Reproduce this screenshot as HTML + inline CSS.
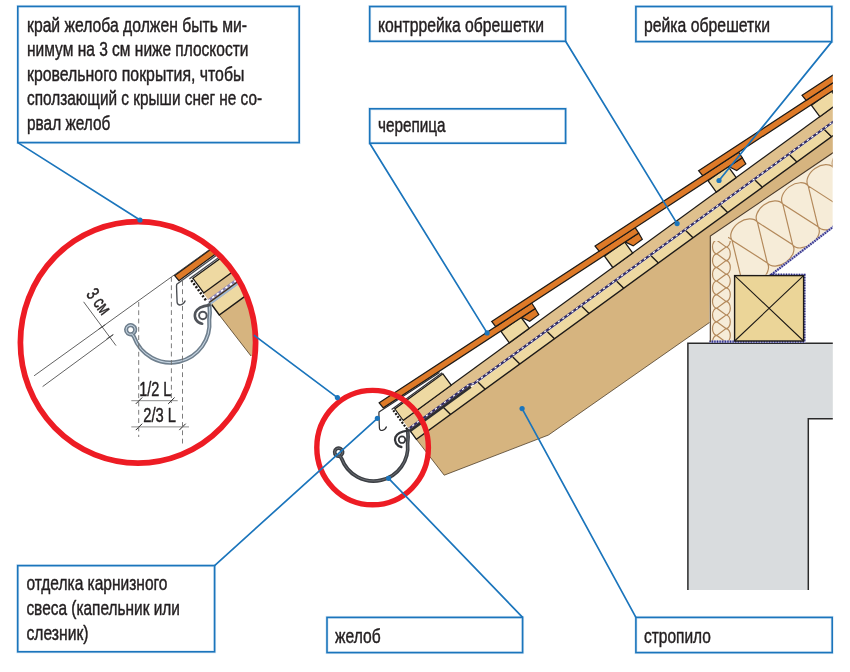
<!DOCTYPE html>
<html lang="ru"><head><meta charset="utf-8"><title>Карнизный свес: желоб, капельник, стропило</title>
<style>html,body{margin:0;padding:0;background:#fff}body{width:850px;height:672px;overflow:hidden}svg{display:block;will-change:transform}text{font-family:"Liberation Sans",sans-serif;fill:#231f20;stroke:#231f20;stroke-width:.45px;stroke-linejoin:round}</style></head><body>
<svg width="850" height="672" viewBox="0 0 850 672">
<defs>
<clipPath id="crop"><rect x="0" y="0" width="832.8" height="672"/></clipPath>
<clipPath id="insB"><polygon points="728,224 832.8,152.9 832.8,227 771.4,274.4 734.6,275.4 728,270"/></clipPath>
<clipPath id="insC"><rect x="710.3" y="241" width="24.3" height="101"/></clipPath>
<clipPath id="big"><ellipse cx="138" cy="342.4" rx="117.6" ry="120.7"/></clipPath>
<g id="roof">
<polygon points="416.4,439.3 869.0,109.5 870.0,127.6 710.3,236.0 709.5,322.5 548.5,435.0 444.2,475.2" fill="#d6b47f"/>
<path d="M416.4,439.3 L444.2,475.2 L548.5,435.0 L709.5,322.5" fill="none" stroke="#3d2d18" stroke-width=".9" opacity=".8"/>
<polygon points="416.4,439.3 869.0,109.5 863.2,101.6 410.6,431.4" fill="#eed9a2"/>
<path d="M410.6,431.4 L416.4,439.3 L869.0,109.5" fill="none" stroke="#1d1a17" stroke-width="1.4"/>
<path d="M450.6,414.4 L443.5,407.4 M485.2,389.2 L478.2,382.2 M519.8,363.9 L512.8,356.9 M554.5,338.7 L547.4,331.7 M589.1,313.4 L582.0,306.5 M623.7,288.2 L616.7,281.2 M658.4,263.0 L651.3,256.0 M693.0,237.7 L685.9,230.8 M727.6,212.5 L720.6,205.5 M762.3,187.3 L755.2,180.3 M796.9,162.0 L789.8,155.1 M831.5,136.8 L824.5,129.8 M866.2,111.6 L859.1,104.6 " stroke="#1d1a17" stroke-width="1.4" fill="none"/>
<polygon points="409.9,430.4 862.5,100.6 855.3,90.8 402.7,420.5" fill="#dfc08d"/>
<path d="M402.7,420.5 L855.3,90.8" stroke="#1d1a17" stroke-width="1.2" fill="none"/>
<path d="M409.4,431.4 L470.8,386.6" stroke="#2c2c30" stroke-width="2.6" fill="none"/>
<path d="M407.9,429.4 L469.4,384.6 L473.7,383.7 L862.4,100.5" stroke="#322d68" stroke-width="2.3" fill="none"/>
<path d="M407.8,429.2 L469.2,384.5 L473.5,383.6 L862.3,100.3" stroke="#fff" stroke-width="1.2" stroke-dasharray="2.3 3.3" fill="none"/>
<polygon points="403.0,420.4 451.2,385.2 442.9,373.8 394.7,409.0" fill="#eed9a2" stroke="#1d1a17" stroke-width="1.3" stroke-linejoin="miter"/>
<polygon points="509.3,342.9 529.2,328.4 520.9,317.0 501.0,331.5" fill="#eed9a2" stroke="#1d1a17" stroke-width="1.3" stroke-linejoin="miter"/>
<polygon points="612.8,267.5 632.7,253.0 624.4,241.6 604.5,256.1" fill="#eed9a2" stroke="#1d1a17" stroke-width="1.3" stroke-linejoin="miter"/>
<polygon points="716.3,192.1 736.2,177.6 727.9,166.2 708.0,180.7" fill="#eed9a2" stroke="#1d1a17" stroke-width="1.3" stroke-linejoin="miter"/>
<polygon points="819.8,116.7 839.6,102.2 831.3,90.8 811.5,105.3" fill="#eed9a2" stroke="#1d1a17" stroke-width="1.3" stroke-linejoin="miter"/>
<polygon points="521.6,317.4 529.7,321.3 538.8,314.7 535.2,308.5" fill="#de7a28" stroke="#1d1a17" stroke-width="1.2" stroke-linejoin="miter"/>
<polygon points="379.2,402.8 531.7,303.0 535.2,308.5 383.3,407.8" fill="#de7a28" stroke="#1d1a17" stroke-width="1.25" stroke-linejoin="miter"/>
<polygon points="625.1,241.9 633.2,245.9 642.3,239.3 638.7,233.1" fill="#de7a28" stroke="#1d1a17" stroke-width="1.2" stroke-linejoin="miter"/>
<polygon points="491.7,321.5 635.2,227.6 638.7,233.1 495.7,326.6" fill="#de7a28" stroke="#1d1a17" stroke-width="1.25" stroke-linejoin="miter"/>
<polygon points="728.6,166.5 736.7,170.5 745.8,163.9 742.2,157.7" fill="#de7a28" stroke="#1d1a17" stroke-width="1.2" stroke-linejoin="miter"/>
<polygon points="595.1,246.1 738.7,152.2 742.2,157.7 599.2,251.2" fill="#de7a28" stroke="#1d1a17" stroke-width="1.25" stroke-linejoin="miter"/>
<polygon points="832.1,91.1 840.2,95.1 849.3,88.5 845.7,82.2" fill="#de7a28" stroke="#1d1a17" stroke-width="1.2" stroke-linejoin="miter"/>
<polygon points="698.6,170.7 842.2,76.8 845.7,82.2 702.7,175.7" fill="#de7a28" stroke="#1d1a17" stroke-width="1.25" stroke-linejoin="miter"/>
<polygon points="935.6,15.7 943.7,19.7 952.8,13.0 949.2,6.8" fill="#de7a28" stroke="#1d1a17" stroke-width="1.2" stroke-linejoin="miter"/>
<polygon points="802.1,95.3 945.7,1.4 949.2,6.8 806.2,100.3" fill="#de7a28" stroke="#1d1a17" stroke-width="1.25" stroke-linejoin="miter"/>
</g>
<g id="eave">
<path d="M393.3,410.3 L408.0,430.5" stroke="#fff" stroke-width="3" fill="none"/>
<path d="M393.3,410.3 L407.5,429.7" stroke="#1d1a17" stroke-width="2.2" stroke-dasharray="2 1.6" fill="none"/>
<path d="M439.5,372.6 L379.0,412.1 L378.9,414.0 L379.4,428.0 C 379.6,431.6 384.6,431.4 386.6,426.6" stroke="#2e2e31" stroke-width="1.2" fill="none" stroke-linejoin="round"/>
<path d="M442.2,372.8 L391.6,409.5" stroke="#2e2e31" stroke-width="1.1" fill="none"/>
<path d="M 341.3,455.2 A 4,4 0 1 0 339.9,456.0 L 341.6,458.5 A 34.1,34.1 0 0 0 407.6,443.5 C 408.3,439 408.2,434.5 407.7,430.4" stroke="#3c3f44" stroke-width="3.7" fill="none" stroke-linecap="round"/>
<path d="M 341.3,455.2 A 4,4 0 1 0 339.9,456.0 L 341.6,458.5 A 34.1,34.1 0 0 0 407.6,443.5 C 408.3,439 408.2,434.5 407.7,430.4" stroke="#707479" stroke-width=".9" fill="none" stroke-linecap="round"/>
<path d="M 407.7,430.6 C 403,431.2 397.4,432.4 395.4,437.2 C 393.8,441.6 396.6,446.2 401.4,447" stroke="#34363a" stroke-width="2.3" fill="none" stroke-linecap="round"/>
<circle cx="402" cy="439.7" r="3.3" fill="#fff" stroke="#34363a" stroke-width="1.7"/>
</g>
</defs>
<rect width="850" height="672" fill="#fff"/>
<g clip-path="url(#crop)">
<polygon points="687.9,343.3 840,343.3 840,418.8 808.3,418.8 808.3,590 687.9,590" fill="#d9dcde"/>
<path d="M687.9,590 L687.9,343.3 L840,343.3 M840,418.8 L808.3,418.8 L808.3,590" fill="none" stroke="#2a2a2a" stroke-width="1.5"/>
<polygon points="710.3,236 832.8,152.9 832.8,227 771.4,274.4 734.6,275.4 734.6,342 710.3,342" fill="#f6ecd8"/>
<g fill="none" stroke="#b48a5c" stroke-width="1.2">
<path clip-path="url(#insB)" d="M706.6,258.4 A15.6,10.5 -35.5 0 1 732.0,240.2 L741.9,281.0 A15.6,10.5 -35.5 0 0 767.3,262.9 L732.0,240.2 A15.6,10.5 -35.5 0 1 757.4,222.1 L767.3,262.9 A15.6,10.5 -35.5 0 0 792.7,244.8 L757.4,222.1 A15.6,10.5 -35.5 0 1 782.8,204.0 L792.7,244.8 A15.6,10.5 -35.5 0 0 818.1,226.7 L782.8,204.0 A15.6,10.5 -35.5 0 1 808.2,185.9 L818.1,226.7 A15.6,10.5 -35.5 0 0 843.5,208.6 L808.2,185.9 A15.6,10.5 -35.5 0 1 833.6,167.8 L843.5,208.6 A15.6,10.5 -35.5 0 0 868.9,190.5 L833.6,167.8 A15.6,10.5 -35.5 0 1 859.0,149.6 L868.9,190.5 A15.6,10.5 -35.5 0 0 894.3,172.3 L859.0,149.6 A15.6,10.5 -35.5 0 1 884.4,131.5 L894.3,172.3 A15.6,10.5 -35.5 0 0 919.7,154.2 L884.4,131.5 "/>
<path clip-path="url(#insC)" d="M716.8,349.0 A6.8,4.3 -90.0 0 1 716.8,335.4 L726.0,342.2 A6.8,4.3 -90.0 0 0 726.0,328.6 L716.8,335.4 A6.8,4.3 -90.0 0 1 716.8,321.8 L726.0,328.6 A6.8,4.3 -90.0 0 0 726.0,315.0 L716.8,321.8 A6.8,4.3 -90.0 0 1 716.8,308.2 L726.0,315.0 A6.8,4.3 -90.0 0 0 726.0,301.4 L716.8,308.2 A6.8,4.3 -90.0 0 1 716.8,294.6 L726.0,301.4 A6.8,4.3 -90.0 0 0 726.0,287.8 L716.8,294.6 A6.8,4.3 -90.0 0 1 716.8,281.0 L726.0,287.8 A6.8,4.3 -90.0 0 0 726.0,274.2 L716.8,281.0 A6.8,4.3 -90.0 0 1 716.8,267.4 L726.0,274.2 A6.8,4.3 -90.0 0 0 726.0,260.6 L716.8,267.4 A6.8,4.3 -90.0 0 1 716.8,253.8 L726.0,260.6 A6.8,4.3 -90.0 0 0 726.0,247.0 L716.8,253.8 A6.8,4.3 -90.0 0 1 716.8,240.2 L726.0,247.0 A6.8,4.3 -90.0 0 0 726.0,233.4 L716.8,240.2 "/>
</g>
<path d="M834,226.2 L771.4,274.6 L804.4,274.8 L804.4,341.6 L709.6,341.6" fill="none" stroke="#a9a9d6" stroke-width="2.2"/>
<path d="M834,226.2 L771.4,274.6 L804.4,274.8 L804.4,341.6 L709.6,341.6" fill="none" stroke="#2f2f86" stroke-width="2.2" stroke-dasharray="1.2 1.4"/>
<rect x="734.6" y="275.6" width="69" height="65.4" fill="#ebd598" stroke="#1d1a17" stroke-width="1.4"/>
<path d="M734.6,275.6 L803.6,341 M803.6,275.6 L734.6,341" stroke="#1d1a17" stroke-width="1.1" fill="none"/>
<use href="#roof"/>
<path d="M710.3,342 L710.3,236 L834,152.1" fill="none" stroke="#4a3a2a" stroke-width="1.1"/>
<use href="#eave"/>
</g>
<ellipse cx="372.6" cy="447.6" rx="55.8" ry="57.2" fill="none" stroke="#ed1c24" stroke-width="5.4"/>
<ellipse cx="138" cy="342.4" rx="117.6" ry="120.7" fill="#fff"/>
<g clip-path="url(#big)">
<g transform="translate(-255.42 -185.79) scale(1.140)">
<polygon points="416.4,439.3 489.1,386.3 520.0,470.0 444.2,475.2" fill="#d6b47f"/>
<path d="M416.4,439.3 L444.2,475.2" fill="none" stroke="#3d2d18" stroke-width=".8" opacity=".8"/>
<polygon points="416.4,439.3 489.1,386.3 482.4,377.1 409.7,430.1" fill="#eed9a2"/>
<path d="M409.7,430.1 L416.4,439.3 L489.1,386.3" fill="none" stroke="#1d1a17" stroke-width="1.3"/>
<polygon points="409.7,430.1 482.4,377.1 475.2,367.2 402.5,420.2" fill="#dfc08d"/>
<path d="M408.2,429.7 L481.7,376.1" stroke="#9bb7d4" stroke-width="1.6" fill="none"/>
<path d="M407.3,428.5 L480.8,374.9" stroke="#3a2f28" stroke-width="1.4" fill="none"/>
<path d="M406.3,427.1 L479.8,373.5" stroke="#8a84b8" stroke-width="2.2" fill="none"/>
<path d="M406.3,427.1 L479.8,373.5" stroke="#fff" stroke-width="1.4" stroke-dasharray="2.2 2.6" fill="none"/>
<polygon points="402.7,420.0 475.2,367.2 465.8,354.3 393.3,407.1" fill="#eed9a2" stroke="#1d1a17" stroke-width="1.2"/>
<path d="M465.0,353.2 L390.2,407.6" stroke="#4a4d52" stroke-width="1.1" fill="none"/>
<path d="M463.3,350.9 L379.1,412.3 L378.9,414 L379.4,428 C 379.6,431.6 384.6,431.4 386.6,426.6" stroke="#4a4d52" stroke-width="1.2" fill="none" stroke-linejoin="round"/>
<polygon points="377.3,404.7 459.1,345.1 462.5,349.8 381.0,409.2" fill="#de7a28" stroke="#1d1a17" stroke-width="1.1"/>
<path d="M391.9,408.8 L405.6,427.6" stroke="#fff" stroke-width="3" fill="none"/>
<path d="M391.9,408.8 L405.3,427.2" stroke="#1d1a17" stroke-width="2.2" stroke-dasharray="1.8 1.5" fill="none"/>
<path d="M 341.3,455.2 A 4,4 0 1 0 339.9,456.0 L 341.6,458.5 A 34.1,34.1 0 0 0 407.6,443.5 C 408.3,439 408.2,434.5 407.7,430.4" stroke="#6f7f8d" stroke-width="3.7" fill="none" stroke-linecap="round"/>
<path d="M 341.3,455.2 A 4,4 0 1 0 339.9,456.0 L 341.6,458.5 A 34.1,34.1 0 0 0 407.6,443.5 C 408.3,439 408.2,434.5 407.7,430.4" stroke="#c4d3e0" stroke-width=".9" fill="none" stroke-linecap="round"/>
<path d="M 407.7,430.6 C 403,431.2 397.4,432.4 395.4,437.2 C 393.8,441.6 396.6,446.2 401.4,447" stroke="#50545a" stroke-width="2.3" fill="none" stroke-linecap="round"/>
<circle cx="402" cy="439.7" r="3.3" fill="#fff" stroke="#50545a" stroke-width="1.7"/>
</g>
<g fill="none" stroke="#3a3a3a" stroke-width=".8">
<path d="M223.2,239.7 L34.1,375.8"/>
<path d="M113.4,334.6 L42.6,386.6"/>
<path d="M83.6,301.8 L116,345.6"/>
<path d="M98.6,329.2 L105.2,324.8 M106.5,339 L113.1,334.6"/>
</g>
<path d="M131.3,400.7 L177.7,400.7 M131.3,426.9 L189,426.9" fill="none" stroke="#8c8c8c" stroke-width="1"/>
<path d="M135.8,403.9 L142.2,397.5 M168.2,403.9 L174.6,397.5 M135.8,430.1 L142.2,423.7 M179.3,430.1 L185.7,423.7" fill="none" stroke="#2a2a2a" stroke-width="1"/>
<g fill="none" stroke="#6e6e6e" stroke-width=".9" stroke-dasharray="4.8 3.5">
<path d="M138.7,302 L138.7,437"/>
<path d="M171.4,277 L171.4,403"/>
<path d="M182.5,281 L182.5,444"/>
</g>
</g>
<ellipse cx="138" cy="342.4" rx="117.6" ry="120.7" fill="none" stroke="#ed1c24" stroke-width="5.7"/>
<text transform="translate(85.6 294.4) rotate(52.5)" font-size="19" textLength="27.4" lengthAdjust="spacingAndGlyphs">3 см</text>
<text x="139.2" y="395.6" font-size="20" textLength="32.2" lengthAdjust="spacingAndGlyphs">1/2 L</text>
<text x="143.2" y="421.8" font-size="20" textLength="32.8" lengthAdjust="spacingAndGlyphs">2/3 L</text>
<rect x="17.8" y="6.4" width="281.4" height="136.2" fill="#fff" stroke="#d9e8f5" stroke-width="3"/>
<rect x="369.7" y="6.5" width="195.9" height="34.8" fill="#fff" stroke="#d9e8f5" stroke-width="3"/>
<rect x="635.9" y="6.5" width="195.9" height="35.1" fill="#fff" stroke="#d9e8f5" stroke-width="3"/>
<rect x="369.7" y="108.8" width="195.9" height="34.4" fill="#fff" stroke="#d9e8f5" stroke-width="3"/>
<rect x="17.7" y="565.6" width="196.9" height="86.2" fill="#fff" stroke="#d9e8f5" stroke-width="3"/>
<rect x="327.0" y="617.4" width="195.6" height="35.2" fill="#fff" stroke="#d9e8f5" stroke-width="3"/>
<rect x="635.9" y="617.4" width="196.3" height="35.2" fill="#fff" stroke="#d9e8f5" stroke-width="3"/>
<path d="M17.8,142.6 L140.0,220.0 M253.9,335.1 L337.4,397.6 M214.6,565.6 L377.4,418.3 M522.6,617.4 L388.6,478.3 M635.9,617.4 L522.1,408.6 M565.6,41.3 L677.1,223.6 M831.8,41.6 L719.0,180.5 M369.7,143.2 L487.1,332.9" fill="none" stroke="#1b75bc" stroke-width="1.7"/>
<circle cx="140.0" cy="220.0" r="2.6" fill="#1b75bc"/>
<circle cx="337.4" cy="397.6" r="2.6" fill="#1b75bc"/>
<circle cx="377.4" cy="418.3" r="2.6" fill="#1b75bc"/>
<circle cx="388.6" cy="478.3" r="2.6" fill="#1b75bc"/>
<circle cx="522.1" cy="408.6" r="2.6" fill="#1b75bc"/>
<circle cx="677.1" cy="223.6" r="2.6" fill="#1b75bc"/>
<circle cx="719.0" cy="180.5" r="2.6" fill="#1b75bc"/>
<circle cx="487.1" cy="332.9" r="2.6" fill="#1b75bc"/>
<rect x="17.8" y="6.4" width="281.4" height="136.2" fill="none" stroke="#1b75bc" stroke-width="1.6"/>
<rect x="369.7" y="6.5" width="195.9" height="34.8" fill="none" stroke="#1b75bc" stroke-width="1.6"/>
<rect x="635.9" y="6.5" width="195.9" height="35.1" fill="none" stroke="#1b75bc" stroke-width="1.6"/>
<rect x="369.7" y="108.8" width="195.9" height="34.4" fill="none" stroke="#1b75bc" stroke-width="1.6"/>
<rect x="17.7" y="565.6" width="196.9" height="86.2" fill="none" stroke="#1b75bc" stroke-width="1.6"/>
<rect x="327.0" y="617.4" width="195.6" height="35.2" fill="none" stroke="#1b75bc" stroke-width="1.6"/>
<rect x="635.9" y="617.4" width="196.3" height="35.2" fill="none" stroke="#1b75bc" stroke-width="1.6"/>
<text x="27.0" y="31.9" font-size="20" textLength="220.1" lengthAdjust="spacingAndGlyphs">край желоба должен быть ми-</text>
<text x="27.0" y="56.4" font-size="20" textLength="221.5" lengthAdjust="spacingAndGlyphs">нимум на 3 см ниже плоскости</text>
<text x="27.0" y="80.8" font-size="20" textLength="217.4" lengthAdjust="spacingAndGlyphs">кровельного покрытия, чтобы</text>
<text x="27.0" y="105.2" font-size="20" textLength="235.1" lengthAdjust="spacingAndGlyphs">сползающий с крыши снег не со-</text>
<text x="27.0" y="129.7" font-size="20" textLength="83.3" lengthAdjust="spacingAndGlyphs">рвал желоб</text>
<text x="378.0" y="31.8" font-size="20" textLength="166.0" lengthAdjust="spacingAndGlyphs">контррейка обрешетки</text>
<text x="644.0" y="31.8" font-size="20" textLength="126.0" lengthAdjust="spacingAndGlyphs">рейка обрешетки</text>
<text x="378.0" y="132.4" font-size="20" textLength="67.6" lengthAdjust="spacingAndGlyphs">черепица</text>
<text x="26.4" y="590.0" font-size="20" textLength="141.1" lengthAdjust="spacingAndGlyphs">отделка карнизного</text>
<text x="26.4" y="615.3" font-size="20" textLength="153.6" lengthAdjust="spacingAndGlyphs">свеса (капельник или</text>
<text x="26.4" y="639.8" font-size="20" textLength="62.1" lengthAdjust="spacingAndGlyphs">слезник)</text>
<text x="335.0" y="643.0" font-size="20" textLength="45.6" lengthAdjust="spacingAndGlyphs">желоб</text>
<text x="644.0" y="643.0" font-size="20" textLength="66.9" lengthAdjust="spacingAndGlyphs">стропило</text>
</svg></body></html>
